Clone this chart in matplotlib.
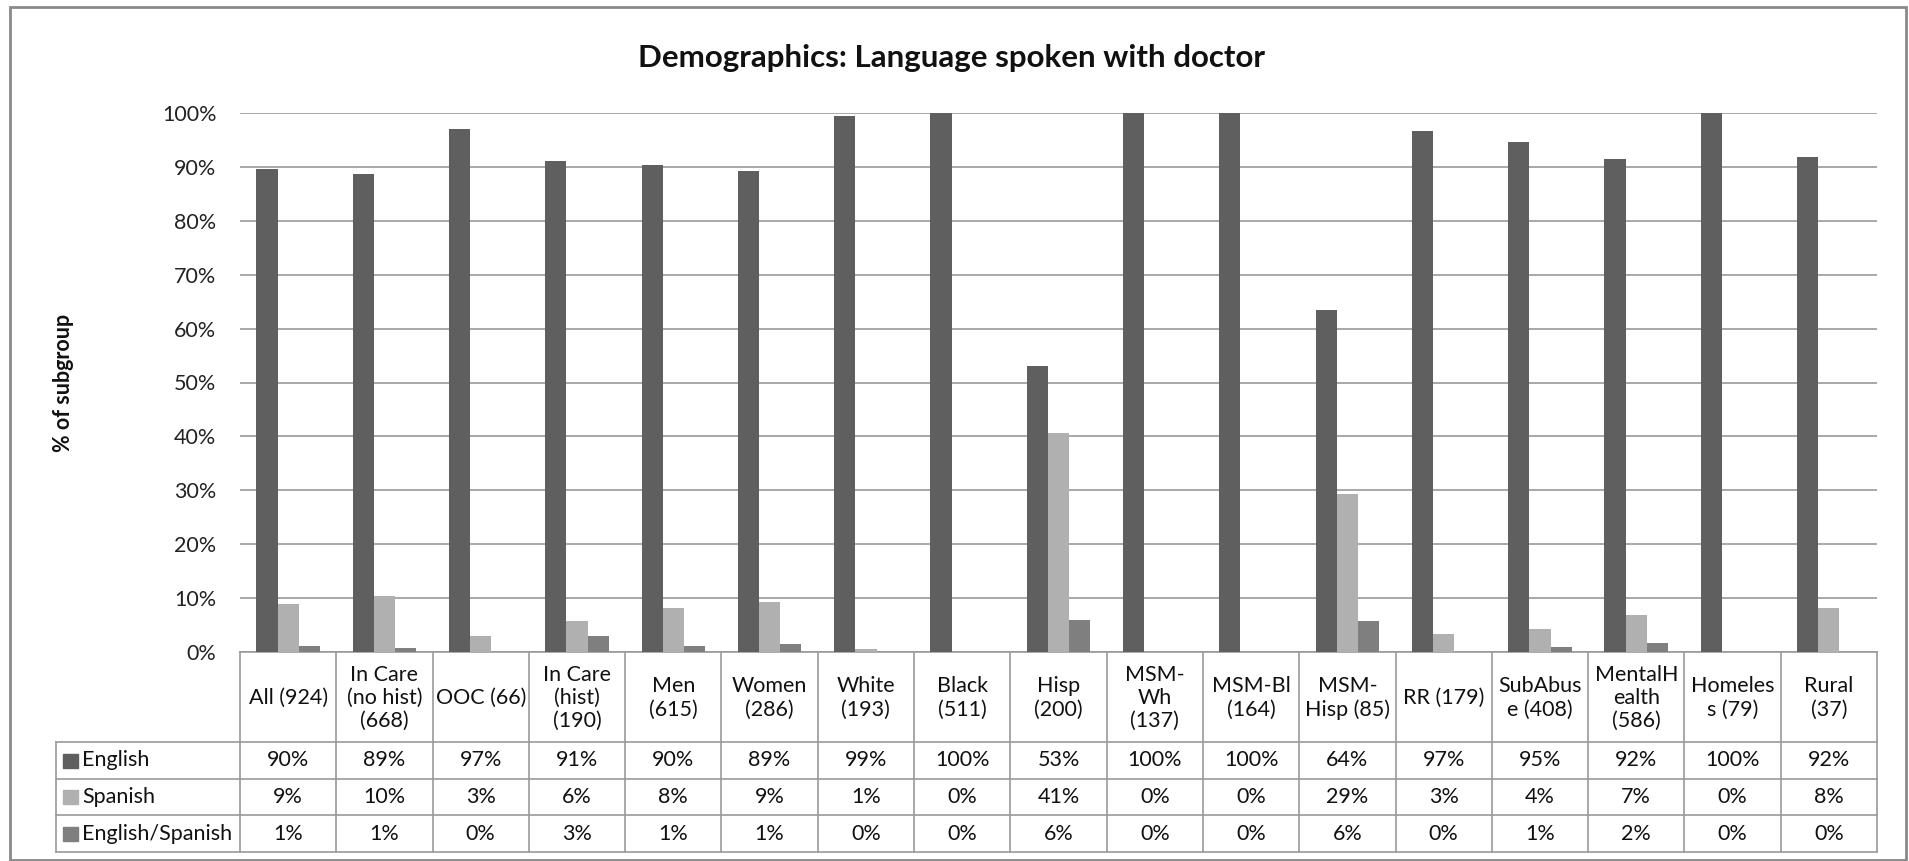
import matplotlib
matplotlib.use("Agg")
import matplotlib.pyplot as plt
from matplotlib.patches import Rectangle
from matplotlib.transforms import blended_transform_factory
import numpy as np

plt.rcParams['font.family'] = ['Lato', 'DejaVu Sans']

title = "Demographics: Language spoken with doctor"
ylabel = "% of subgroup"
categories = ["All (924)", "In Care\n(no hist)\n(668)", "OOC (66)", "In Care\n(hist)\n(190)",
              "Men\n(615)", "Women\n(286)", "White\n(193)", "Black\n(511)", "Hisp\n(200)",
              "MSM-\nWh\n(137)", "MSM-Bl\n(164)", "MSM-\nHisp (85)", "RR (179)",
              "SubAbus\ne (408)", "MentalH\nealth\n(586)", "Homeles\ns (79)", "Rural\n(37)"]
series_names = ["English", "Spanish", "English/Spanish"]
english = [89.7, 88.6, 97.0, 91.1, 90.3, 89.2, 99.4, 100.0, 53.0, 100.0, 100.0, 63.5, 96.6, 94.6, 91.5, 100.0, 91.8]
spanish = [8.9, 10.3, 2.9, 5.7, 8.1, 9.3, 0.6, 0.0, 40.6, 0.0, 0.0, 29.4, 3.3, 4.2, 6.8, 0.0, 8.1]
eng_spa = [1.2, 0.7, 0.0, 3.0, 1.2, 1.4, 0.0, 0.0, 6.0, 0.0, 0.0, 5.8, 0.0, 1.0, 1.6, 0.0, 0.0]
colors = ["#5f5f5f", "#b0b0b0", "#7f7f7f"]
yticks = [0, 10, 20, 30, 40, 50, 60, 70, 80, 90, 100]

W, H = 1909, 861
fig = plt.figure(figsize=(W / 100, H / 100), dpi=100)
fig.patch.set_facecolor("white")

# pixel layout
pl, pr, pt, pb = 240, 1877, 113, 652
ax = fig.add_axes([pl / W, 1 - pb / H, (pr - pl) / W, (pb - pt) / H])
n = len(categories)
x = np.arange(n)
bw = 0.22
data = [english, spanish, eng_spa]
for k, (vals, c) in enumerate(zip(data, colors)):
    ax.bar(x + (k - 1) * bw, vals, width=bw, color=c, edgecolor="none", zorder=3)

ax.set_xlim(-0.5, n - 0.5)
ax.set_ylim(0, 100)
ax.set_yticks(yticks)
ax.set_yticklabels([f"{t}%" for t in yticks], fontsize=15.5, color="#222222")
ax.set_xticks([])
ax.tick_params(axis="y", length=0, pad=17)
ax.grid(axis="y", color="#9a9a9a", lw=1.2, zorder=0)
for s in ["top", "right", "left"]:
    ax.spines[s].set_visible(False)
ax.spines["bottom"].set_color("#9a9a9a")
ax.spines["bottom"].set_linewidth(1.2)

fig.text(952 / W, 1 - 58 / H, title, ha="center", va="center", fontsize=22.5, fontweight="bold", color="#111111")
fig.text(63 / W, 1 - 383 / H, ylabel, ha="center", va="center", rotation=90, fontsize=15.5, fontweight="bold", color="#111111")

# table
def ya(pix):
    return (pb - pix) / (pb - pt)

tr = blended_transform_factory(ax.transData, ax.transAxes)
row_edges = [652, 742, 779, 815, 852]
lc = "#9a9a9a"
for i in range(n + 1):
    ax.plot([i - 0.5, i - 0.5], [ya(652), ya(852)], transform=tr, color=lc, lw=1.2, clip_on=False)
tleft = (56 - pl) / (pr - pl)
for e in row_edges[1:]:
    ax.plot([tleft, 1.0], [ya(e), ya(e)], transform=ax.transAxes, color=lc, lw=1.2, clip_on=False)
ax.plot([tleft, tleft], [ya(742), ya(852)], transform=ax.transAxes, color=lc, lw=1.2, clip_on=False)

for i, cat in enumerate(categories):
    ax.text(i, ya(698), cat, transform=tr, ha="center", va="center", fontsize=15.5,
            color="#111111", linespacing=1.2)

for r, (name, vals, c) in enumerate(zip(series_names, data, colors)):
    yc = ya((row_edges[r + 1] + row_edges[r + 2]) / 2)
    sq = (63 - pl) / (pr - pl)
    ax.add_patch(Rectangle((sq, yc - 7 / (pb - pt)), 15 / (pr - pl), 14 / (pb - pt),
                           transform=ax.transAxes, color=c, clip_on=False))
    ax.text((82 - pl) / (pr - pl), yc, name, transform=ax.transAxes, ha="left", va="center",
            fontsize=15.5, color="#111111")
    for i, v in enumerate(vals):
        ax.text(i, yc, f"{v:.0f}%", transform=tr, ha="center", va="center", fontsize=15.5, color="#111111")

fig.patches.append(Rectangle((10 / W, 1 - 860 / H), 1896 / W, 853 / H, transform=fig.transFigure,
                             fill=False, edgecolor="#8a8a8a", lw=2))

fig.savefig("out.png", dpi=100, facecolor="white")
